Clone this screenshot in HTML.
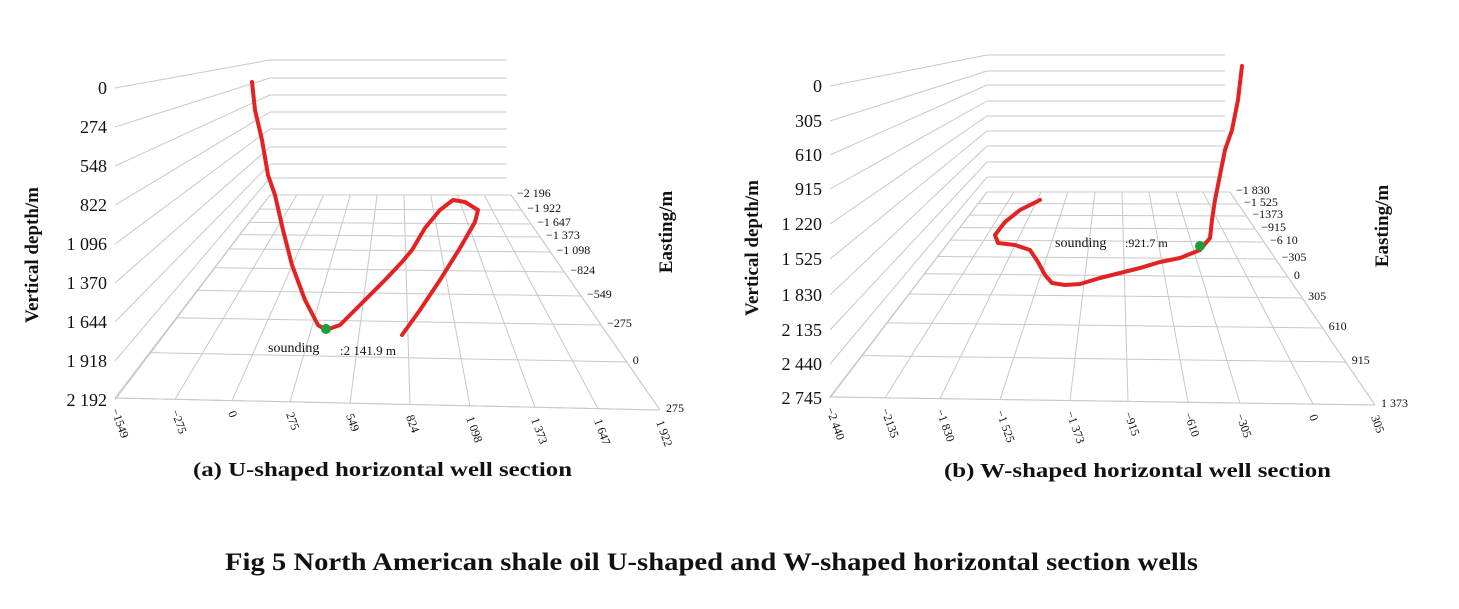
<!DOCTYPE html>
<html><head><meta charset="utf-8"><style>
body{margin:0;background:#fff;width:1459px;height:609px;overflow:hidden}
svg{display:block}
text{font-family:"Liberation Serif",serif;fill:#111}
.g{stroke:#c8c8c8;stroke-width:1;fill:none}
.r{stroke:#e32222;stroke-width:4;fill:none;stroke-linecap:round;stroke-linejoin:round}
.yl{font-size:18px;text-anchor:end}
.sm{font-size:12px}
.ax{font-size:19px;font-weight:bold}
</style></head><body>
<svg id="s" width="1459" height="609" xmlns="http://www.w3.org/2000/svg">
<g id="grid"></g>
<path class="r" d="M252,82 L255,110 L262,140 L268,175 L275,195 L283,230 L292,265 L305,300 L318,325 L326,330 L340,325 L360,305 L385,280 L402,262 L412,250 L425,228 L440,210 L453,200 L465,202 L478,210 L475,222 L460,248 L440,280 L420,310 L402,335"/>
<circle cx="326" cy="329" r="5" fill="#1a9e3a"/>
<text x="268" y="352" font-size="14">sounding</text><text x="340" y="355" font-size="13">:2 141.9 m</text>
<path class="r" d="M1242,66 L1238,100 L1232,130 L1225,150 L1220,175 L1215,200 L1212,220 L1210,238 L1200,250 L1180,258 L1160,262 L1140,268 L1120,273 L1100,278 L1080,284 L1065,285 L1052,283 L1045,275 L1038,262 L1030,250 L1015,245 L998,243 L995,235 L1005,222 L1020,210 L1040,200"/>
<circle cx="1200" cy="246" r="5" fill="#1a9e3a"/>
<text x="1055" y="247" font-size="14">sounding</text><text x="1125" y="247" font-size="12">:921.7 m</text>
<text class="ax" transform="translate(38,255) rotate(-90)" text-anchor="middle">Vertical depth/m</text>
<text class="ax" transform="translate(672,232) rotate(-90)" text-anchor="middle">Easting/m</text>
<text class="ax" transform="translate(758,248) rotate(-90)" text-anchor="middle">Vertical depth/m</text>
<text class="ax" transform="translate(1388,226) rotate(-90)" text-anchor="middle">Easting/m</text>
<text x="193" y="476" font-size="20" font-weight="bold" textLength="379" lengthAdjust="spacingAndGlyphs">(a) U-shaped horizontal well section</text>
<text x="944" y="477" font-size="20" font-weight="bold" textLength="387" lengthAdjust="spacingAndGlyphs">(b) W-shaped horizontal well section</text>
<text x="225" y="570" font-size="25" font-weight="bold" textLength="973" lengthAdjust="spacingAndGlyphs">Fig 5 North American shale oil U-shaped and W-shaped horizontal section wells</text>
</svg>
<script>
var NS="http://www.w3.org/2000/svg",G=document.getElementById('grid');
function L(a,b,c,d){var l=document.createElementNS(NS,'line');l.setAttribute('x1',a);l.setAttribute('y1',b);l.setAttribute('x2',c);l.setAttribute('y2',d);l.setAttribute('class','g');G.appendChild(l);}
function T(x,y,s,cls,rot,anch){var t=document.createElementNS(NS,'text');t.textContent=s;t.setAttribute('class',cls);if(rot!=null){t.setAttribute('transform','translate('+x+','+y+') rotate('+rot+')');}else{t.setAttribute('x',x);t.setAttribute('y',y);}if(anch)t.setAttribute('text-anchor',anch);G.appendChild(t);}
function panel(p){
 for(var i=0;i<p.yl.length;i++){var yb=p.back[i];L(p.yx,p.yy[i],p.bx,yb);L(p.bx,yb,p.bxr,yb);T(p.yx-8,p.yy[i]+6,p.yl[i],'yl');}
 var BL=[p.bx,p.fb],BR=[p.fbr,p.fb],FL=p.FL,FR=p.FR;
 L(BL[0],BL[1],BR[0],BR[1]);L(FL[0],FL[1],FR[0],FR[1]);L(BL[0],BL[1],FL[0],FL[1]);L(BR[0],BR[1],FR[0],FR[1]);
 var n=p.fx.length;
 for(var i=0;i<n;i++){var t=i/(n-1);var bx=BL[0]+(BR[0]-BL[0])*t;L(bx,p.fb,p.fx[i],FL[1]+(FR[1]-FL[1])*t);
  T(p.fx[i]-4,FL[1]+(FR[1]-FL[1])*t+12,p.fl[i],'sm',70,null);}
 for(var j=0;j<p.ry.length;j++){var yr=p.ry[j];var t=(yr-p.fb)/(FR[1]-p.fb);
  var xr=BR[0]+(FR[0]-BR[0])*t;var yl=p.fb+(FL[1]-p.fb)*t;var xl=BL[0]+(FL[0]-BL[0])*t;
  L(xl,yl,xr,yr);T(xr+6,yr+2,p.rl[j],'sm');}
}
panel({yx:115,bx:270,bxr:507,fb:195,fbr:511,FL:[115,398],FR:[660,410],
 yy:[88,127,166,205,244,283,322,361,400],yl:['0','274','548','822','1 096','1 370','1 644','1 918','2 192'],
 back:[60,78,95,112,129,147,164,178,195],
 fx:[115,175,232,290,350,410,470,535,598,660],fl:['\u22121549','\u2212275','0','275','549','824','1 098','1 373','1 647','1 922'],
 ry:[195,210,224,237,252,272,296,325,362,410],rl:['\u22122 196','\u22121 922','\u22121 647','\u22121 373','\u22121 098','\u2212824','\u2212549','\u2212275','0','275']});
panel({yx:830,bx:987,bxr:1225,fb:192,fbr:1230,FL:[830,397],FR:[1375,405],
 yy:[86,121,155,189,224,259,295,330,364,398],yl:['0','305','610','915','1 220','1 525','1 830','2 135','2 440','2 745'],
 back:[55,71,85,101,116,131,146,162,177,192],
 fx:[830,885,940,1000,1070,1128,1188,1240,1313,1375],fl:['\u22122 440','\u22122135','\u22121 830','\u22121 525','\u22121 373','\u2212915','\u2212610','\u2212305','0','305'],
 ry:[192,204,216,229,242,259,277,298,328,362,405],rl:['\u22121 830','\u22121 525','\u22121373','\u2212915','\u22126 10','\u2212305','0','305','610','915','1 373']});
</script>
</body></html>
